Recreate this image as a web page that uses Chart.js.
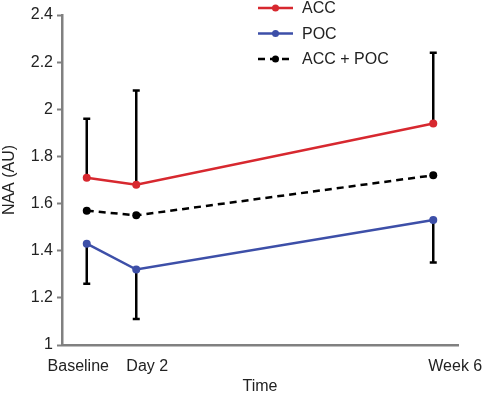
<!DOCTYPE html>
<html>
<head>
<meta charset="utf-8">
<script src="https://cdn.jsdelivr.net/npm/chart.js@4/dist/chart.umd.min.js"></script>
<style>
  html, body { margin: 0; padding: 0; background: #fff; }
  #wrap { width: 483px; height: 400px; }
</style>
</head>
<body>
<div id="wrap"><canvas id="naaChart" width="483" height="400"></canvas></div>
<script>
// time points (x positions on a linear axis) and their labels
const timePos = [0, 1, 7];
const timeLabels = ['Baseline', 'Day 2', 'Week 6'];
const yTicks = [1, 1.2, 1.4, 1.6, 1.8, 2, 2.2, 2.4];

// mean NAA values
const accVals = [1.71, 1.68, 1.94];
const pocVals = [1.43, 1.32, 1.53];
const bothVals = [1.57, 1.55, 1.72];

// one-sided error bars (ACC upwards, POC downwards)
const accErr = [0.25, 0.40, 0.30];
const pocErr = [0.17, 0.21, 0.18];

const RED = '#d7282f';
const BLUE = '#3d4fa8';
const FONT = "'Liberation Sans', Arial, sans-serif";

const toPts = vals => vals.map((v, i) => ({ x: timePos[i], y: v }));

// error bars drawn under the lines
const errorBars = {
  id: 'errorBars',
  beforeDatasetsDraw(chart) {
    const { ctx, scales: { x, y } } = chart;
    ctx.save();
    ctx.strokeStyle = '#000';
    ctx.lineWidth = 2.5;
    const bar = (xv, from, to) => {
      const px = x.getPixelForValue(xv);
      const p1 = y.getPixelForValue(from), p2 = y.getPixelForValue(to);
      ctx.beginPath();
      ctx.moveTo(px, p1); ctx.lineTo(px, p2);
      ctx.moveTo(px - 3.5, p2); ctx.lineTo(px + 3.5, p2);
      ctx.stroke();
    };
    timePos.forEach((t, i) => {
      bar(t, accVals[i], accVals[i] + accErr[i]);
      bar(t, pocVals[i], pocVals[i] - pocErr[i]);
    });
    ctx.restore();
  }
};

// x labels sit a little off their points in the original figure
const xLabelShift = [-8.5, 11, 22];
const timeTickLabels = {
  id: 'timeTickLabels',
  afterDraw(chart) {
    const { ctx, scales: { x } } = chart;
    ctx.save();
    ctx.font = '16px ' + FONT;
    ctx.fillStyle = '#222';
    ctx.textAlign = 'center';
    ctx.textBaseline = 'middle';
    timePos.forEach((t, i) => {
      ctx.fillText(timeLabels[i], x.getPixelForValue(t) + xLabelShift[i], x.bottom - 54 + 21);
    });
    ctx.restore();
  }
};

// legend in the top right corner
const cornerLegend = {
  id: 'cornerLegend',
  afterDraw(chart) {
    const { ctx } = chart;
    ctx.save();
    ctx.font = '16px ' + FONT;
    ctx.textBaseline = 'middle';
    chart.data.datasets.forEach((ds, i) => {
      const yy = 8 + i * 25.5;
      ctx.strokeStyle = ds.borderColor;
      ctx.lineWidth = 2.5;
      ctx.setLineDash(ds.borderDash || []);
      ctx.beginPath();
      ctx.moveTo(258, yy); ctx.lineTo(293, yy);
      ctx.stroke();
      ctx.setLineDash([]);
      ctx.fillStyle = ds.pointBackgroundColor;
      ctx.beginPath();
      ctx.arc(275.5, yy, 3.5, 0, Math.PI * 2);
      ctx.fill();
      ctx.fillStyle = '#222';
      ctx.fillText(ds.label, 302, yy + 1);
    });
    ctx.restore();
  }
};

new Chart(document.getElementById('naaChart'), {
  type: 'line',
  data: {
    datasets: [
      { label: 'ACC', data: toPts(accVals), borderColor: RED, backgroundColor: RED,
        pointBackgroundColor: RED, borderWidth: 2.5, pointRadius: 4, pointBorderWidth: 0 },
      { label: 'POC', data: toPts(pocVals), borderColor: BLUE, backgroundColor: BLUE,
        pointBackgroundColor: BLUE, borderWidth: 2.5, pointRadius: 4, pointBorderWidth: 0 },
      { label: 'ACC + POC', data: toPts(bothVals), borderColor: '#000', backgroundColor: '#000',
        pointBackgroundColor: '#000', borderWidth: 2.5, borderDash: [7, 5], pointRadius: 4, pointBorderWidth: 0 }
    ]
  },
  options: {
    responsive: false,
    animation: false,
    layout: { padding: { top: 15, right: 25, left: 0, bottom: 0 } },
    plugins: { legend: { display: false }, tooltip: { enabled: false } },
    scales: {
      x: {
        type: 'linear',
        min: -0.5, max: 7.5,
        afterBuildTicks: s => { s.ticks = timePos.map(v => ({ value: v })); },
        ticks: { display: false },
        grid: { display: false, drawTicks: false },
        border: { color: '#808080', width: 2.5 },
        title: { display: true, text: 'Time', color: '#222', font: { family: FONT, size: 16 }, padding: { top: 8 } },
        afterFit: s => { s.height = 55; }
      },
      y: {
        min: 1, max: 2.4,
        afterBuildTicks: s => { s.ticks = yTicks.map(v => ({ value: v })); },
        ticks: { color: '#222', font: { family: FONT, size: 16 }, padding: 4, callback: v => String(v) },
        grid: { drawOnChartArea: false, tickLength: 5, color: '#808080', tickWidth: 2 },
        border: { color: '#808080', width: 2.5 },
        title: { display: true, text: 'NAA (AU)', color: '#222', font: { family: FONT, size: 16 }, padding: 0 },
        afterFit: s => { s.width = 62; }
      }
    }
  },
  plugins: [errorBars, timeTickLabels, cornerLegend]
});
</script>
</body>
</html>
